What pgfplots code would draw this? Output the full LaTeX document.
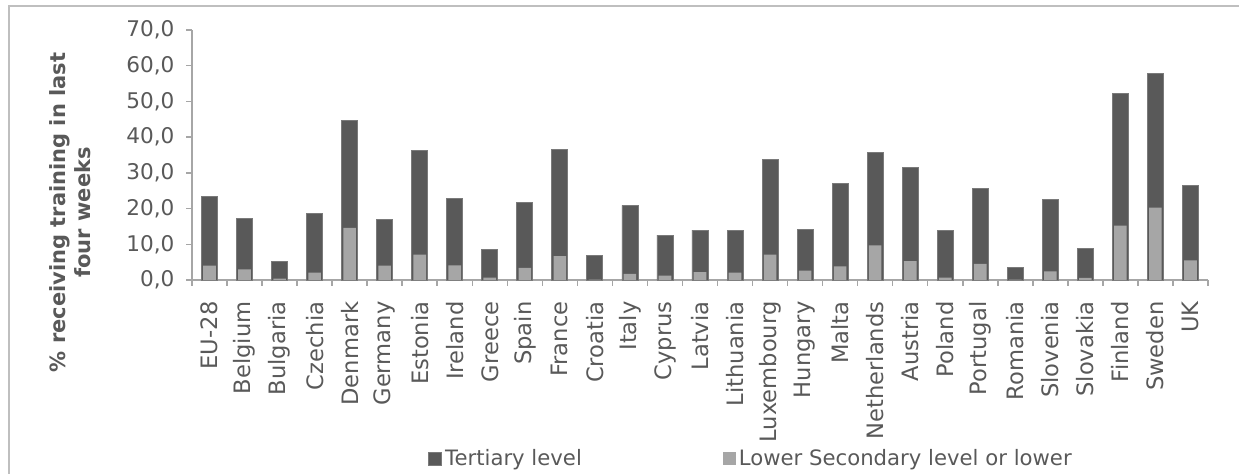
\documentclass[border=0pt]{standalone}
\usepackage{pgfplots}
\pgfplotsset{compat=1.18}
\usepackage{pgfplotstable}
\usepackage{fontspec}
\setmainfont{DejaVu Sans}
\definecolor{darkbar}{HTML}{595959}
\definecolor{lightbar}{HTML}{A6A6A6}
\definecolor{axisgray}{HTML}{A6A6A6}
\definecolor{txt}{HTML}{595959}
\definecolor{frame}{HTML}{BFBFBF}
\pgfplotstableread{
x tert low
0 23.5 4.0
1 17.2 3.0
2 5.2 0.4
3 18.7 2.1
4 44.7 14.6
5 16.9 4.0
6 36.4 7.1
7 22.8 4.1
8 8.6 0.7
9 21.6 3.4
10 36.6 6.7
11 6.9 0.1
12 20.9 1.7
13 12.6 1.2
14 14.0 2.2
15 14.0 2.1
16 33.8 7.1
17 14.2 2.6
18 27.0 3.8
19 35.7 9.7
20 31.5 5.3
21 13.9 0.7
22 25.6 4.5
23 3.6 0.1
24 22.6 2.4
25 8.9 0.6
26 52.2 15.2
27 57.9 20.3
28 26.6 5.5
}\datatable
\begin{document}
\begin{tikzpicture}[font=\fontsize{10.5}{12.5}\selectfont, text=txt]
\begin{axis}[
  scale only axis,
  width=508pt, height=125pt,
  xmin=-0.5, xmax=28.5,
  ymin=0, ymax=70,
  axis x line*=bottom, axis y line*=left,
  axis line style={draw=axisgray, line width=0.75pt},
  tick align=outside,
  xtick={0,...,28},
  xticklabels={EU-28,Belgium,Bulgaria,Czechia,Denmark,Germany,Estonia,Ireland,Greece,Spain,France,Croatia,Italy,Cyprus,Latvia,Lithuania,Luxembourg,Hungary,Malta,Netherlands,Austria,Poland,Portugal,Romania,Slovenia,Slovakia,Finland,Sweden,UK},
  xticklabel style={rotate=90, anchor=east, text=txt, font=\fontsize{11.3}{13}\selectfont},
  xticklabel shift=4.5pt,
  major x tick style={draw=none},
  minor xtick={-0.5,0.5,...,28.5},
  minor x tick style={draw=axisgray, line width=0.75pt},
  minor tick length=2.75pt,
  major tick length=2.75pt,
  ytick={0,10,...,70},
  ytick style={draw=axisgray, line width=0.75pt},
  yticklabel style={text=txt, font=\fontsize{10.8}{13}\selectfont},
  yticklabel shift=2.5pt,
  /pgf/number format/.cd, use comma, fixed, fixed zerofill, precision=1, assume math mode=true,
  /pgfplots/.cd,
  ylabel={\bfseries \% receiving training in last\\\bfseries four weeks},
  ylabel style={at={(axis description cs:-0.120,0.27)}, anchor=center, align=center, text=txt},
  legend columns=2,
  legend style={draw=none, fill=none, at={(axis description cs:0.2323,-0.716)}, anchor=west, inner sep=0pt, font=\fontsize{10.6}{12.5}\selectfont, text=txt,
    nodes={inner sep=1.5pt}},
  legend cell align=left,
  /tikz/every even column/.append style={column sep=69pt},
  /tikz/every odd column/.append style={column sep=0pt},
  legend image code/.code={\fill[#1] (0pt,-3.25pt) rectangle (6.5pt,3.25pt);},
  clip=false,
]
\addplot[ybar, bar shift=0pt, bar width=8pt, fill=darkbar, draw=darkbar!80!white, line width=0.4pt] table[x=x, y=tert] {\datatable};
\addlegendentry{Tertiary level}
\addplot[ybar, bar shift=0pt, bar width=6.3pt, fill=lightbar, draw=none] table[x=x, y=low] {\datatable};
\addlegendentry{Lower Secondary level or lower}
\end{axis}
\draw[frame, line width=0.75pt] (-91.5pt,-100pt) -- (-91.5pt,137pt) -- (530pt,137pt);
\pgfresetboundingbox
\path[use as bounding box] (-96pt,-96.5pt) rectangle (523.5pt,140pt);
\end{tikzpicture}
\end{document}
